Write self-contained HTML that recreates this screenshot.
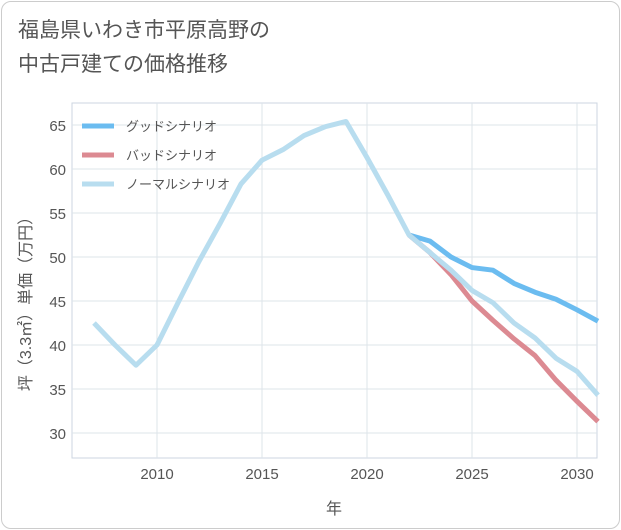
<!DOCTYPE html>
<html><head><meta charset="utf-8">
<style>
body{margin:0;background:#fff;}
#card{position:absolute;left:1px;top:1px;width:617px;height:526px;border:1px solid #ccc;border-radius:10px;background:#fff;}
#title{position:absolute;left:18px;top:14px;font:21px/34px "Liberation Sans","Noto Sans CJK JP",sans-serif;color:#555;margin:0;}
svg{position:absolute;left:0;top:0;font-family:"Liberation Sans","Noto Sans CJK JP",sans-serif;}
</style></head><body>
<div id="card"></div>
<h1 id="title">福島県いわき市平原高野の<br>中古戸建ての価格推移</h1>
<svg id="chart" width="621" height="530"></svg>
<script>
const years=[2007,2008,2009,2010,2011,2012,2013,2014,2015,2016,2017,2018,2019,2020,2021,2022,2023,2024,2025,2026,2027,2028,2029,2030,2031];
const normalVals=[42.5,40,37.7,40,44.8,49.5,53.8,58.3,61,62.2,63.8,64.8,65.4,61.3,57,52.5,50.5,48.5,46.2,44.8,42.5,40.8,38.5,37,34.3];
const futureYears=[2022,2023,2024,2025,2026,2027,2028,2029,2030,2031];
const goodVals=[52.5,51.8,50,48.8,48.5,47,46,45.2,44,42.7];
const badVals=[52.5,50.5,48,45,42.8,40.7,38.8,36,33.6,31.3];
const xTicks=[2010,2015,2020,2025,2030];
const yTicks=[30,35,40,45,50,55,60,65];
const legendLabels=["グッドシナリオ","バッドシナリオ","ノーマルシナリオ"];
const L=72,R=597,T=103,B=458;
const x=v=>157+(v-2010)*21;
const y=v=>433-(v-30)*8.8;
const svg=document.getElementById('chart');
const NS='http://www.w3.org/2000/svg';
function mk(tag,attrs,parent){const e=document.createElementNS(NS,tag);for(const k in attrs)e.setAttribute(k,attrs[k]);(parent||svg).appendChild(e);return e;}
const rect=mk('rect',{x:L,y:T,width:R-L,height:B-T,fill:'none',stroke:'#ccd6e0'});


xTicks.forEach(t=>{
 const g=mk('line',{x1:x(t),x2:x(t),y1:T,y2:B,stroke:'#dde4ea'});
 
 
 const tx=mk('text',{x:x(t),y:479,'text-anchor':'middle','font-size':15,fill:'#555'});
 tx.textContent=t;
 
 
});
yTicks.forEach(t=>{
 const g=mk('line',{x1:L,x2:R,y1:y(t),y2:y(t),stroke:'#dde4ea'});
 
 
 const tx=mk('text',{x:66,y:y(t)+6,'text-anchor':'end','font-size':15,fill:'#555'});
 tx.textContent=t;
 
 
});
function line(xs,vs,color,name){
 const p=mk('polyline',{points:xs.map((v,i)=>x(v)+','+y(vs[i])).join(' '),fill:'none',stroke:color,'stroke-width':5,'stroke-linejoin':'round'});
 
 
}
line(futureYears,goodVals,'#6bbcf0','good-scenario-line');
line(futureYears,badVals,'#dc8a92','bad-scenario-line');
line(years,normalVals,'#b8ddef','normal-scenario-line');
const cols=['#6bbcf0','#dc8a92','#b8ddef'];
legendLabels.forEach((lab,i)=>{
 const ly=126+i*29;
 const ln=mk('line',{x1:82,x2:114,y1:ly,y2:ly,stroke:cols[i],'stroke-width':5});
 
 
 const tx=mk('text',{x:126,y:ly+5,'font-size':13,fill:'#555'});
 tx.textContent=lab;
 
 
});
const xt=mk('text',{x:334,y:514,'text-anchor':'middle','font-size':16,fill:'#555'});
xt.textContent='年';


const yt=mk('text',{x:0,y:0,'text-anchor':'middle','font-size':16,fill:'#555',transform:'translate(31,300) rotate(-90)'});
yt.textContent='坪（3.3㎡）単価（万円）';


</script>
</body></html>
